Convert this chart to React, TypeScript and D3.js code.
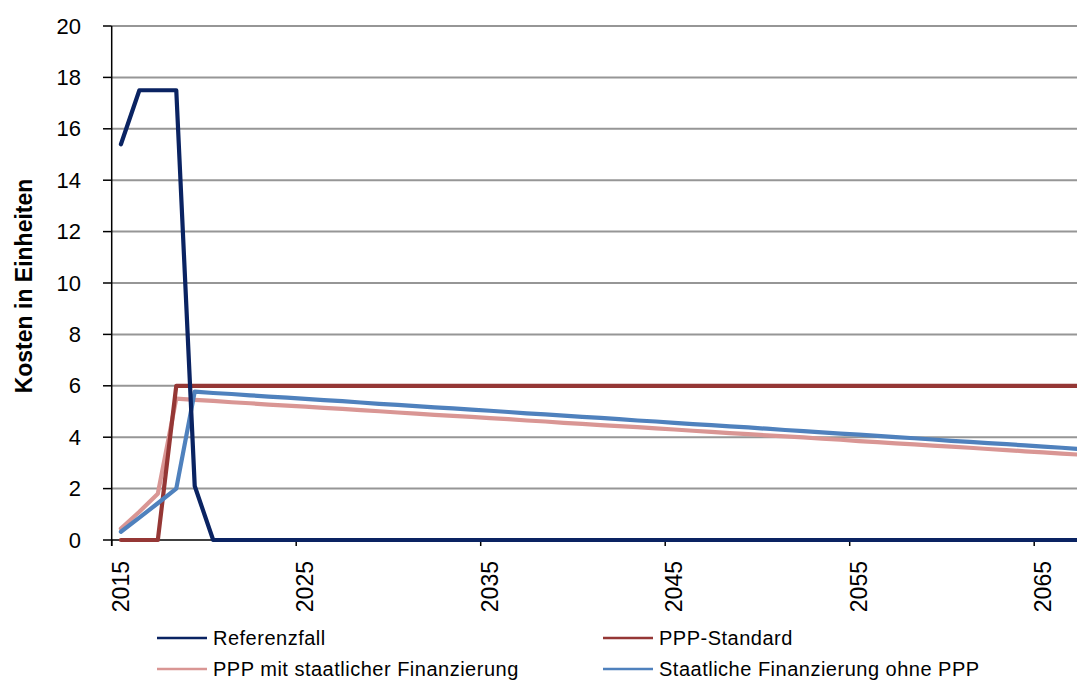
import React from "react";
import * as d3 from "d3";

const years: number[] = [
  2015, 2016, 2017, 2018, 2019, 2020, 2021, 2022, 2023, 2024,
  2025, 2026, 2027, 2028, 2029, 2030, 2031, 2032, 2033, 2034,
  2035, 2036, 2037, 2038, 2039, 2040, 2041, 2042, 2043, 2044,
  2045, 2046, 2047, 2048, 2049, 2050, 2051, 2052, 2053, 2054,
  2055, 2056, 2057, 2058, 2059, 2060, 2061, 2062, 2063, 2064,
  2065, 2066, 2067,
];

const referenzfall: number[] = [
  15.4, 17.5, 17.5, 17.5, 2.1, 0, 0, 0, 0, 0,
  0, 0, 0, 0, 0, 0, 0, 0, 0, 0,
  0, 0, 0, 0, 0, 0, 0, 0, 0, 0,
  0, 0, 0, 0, 0, 0, 0, 0, 0, 0,
  0, 0, 0, 0, 0, 0, 0, 0, 0, 0,
  0, 0, 0,
];

const pppStandard: number[] = [
  0, 0, 0, 6, 6, 6, 6, 6, 6, 6,
  6, 6, 6, 6, 6, 6, 6, 6, 6, 6,
  6, 6, 6, 6, 6, 6, 6, 6, 6, 6,
  6, 6, 6, 6, 6, 6, 6, 6, 6, 6,
  6, 6, 6, 6, 6, 6, 6, 6, 6, 6,
  6, 6, 6,
];

const pppMitStaatlicher: number[] = [
  0.45, 1.1, 1.8, 5.5, 5.45, 5.41, 5.36, 5.32, 5.27, 5.23,
  5.19, 5.14, 5.1, 5.05, 5.01, 4.96, 4.92, 4.87, 4.83, 4.79,
  4.74, 4.7, 4.65, 4.61, 4.56, 4.52, 4.47, 4.43, 4.39, 4.34,
  4.3, 4.25, 4.21, 4.16, 4.12, 4.07, 4.03, 3.99, 3.94, 3.9,
  3.85, 3.81, 3.76, 3.72, 3.67, 3.63, 3.59, 3.54, 3.5, 3.45,
  3.41, 3.36, 3.32,
];

const staatlicheOhnePPP: number[] = [
  0.32, 0.87, 1.43, 2.0, 5.77, 5.72, 5.68, 5.63, 5.58, 5.54,
  5.49, 5.44, 5.4, 5.35, 5.3, 5.26, 5.21, 5.16, 5.12, 5.07,
  5.03, 4.98, 4.93, 4.89, 4.84, 4.79, 4.75, 4.7, 4.65, 4.61,
  4.56, 4.51, 4.47, 4.42, 4.38, 4.33, 4.28, 4.24, 4.19, 4.14,
  4.1, 4.05, 4.0, 3.96, 3.91, 3.86, 3.82, 3.77, 3.73, 3.68,
  3.63, 3.59, 3.54,
];

const yTicks: number[] = [0, 2, 4, 6, 8, 10, 12, 14, 16, 18, 20];
const xTickLabels: number[] = [2015, 2025, 2035, 2045, 2055, 2065];

const seriesNames: string[] = [
  "Referenzfall",
  "PPP-Standard",
  "PPP mit staatlicher Finanzierung",
  "Staatliche Finanzierung ohne PPP",
];

const W = 1077;
const H = 682;
const FONT = "'Liberation Sans', Arial, sans-serif";

export default function App() {
  const left = 111.7;
  const step = 18.45;
  const x = d3
    .scaleLinear()
    .domain([0, years.length])
    .range([left, left + step * years.length]);
  const y = d3.scaleLinear().domain([0, 20]).range([540, 26]);

  const line = d3
    .line<number>()
    .x((_, i) => x(i + 0.5))
    .y((d) => y(d));

  const series = [
    { name: seriesNames[2], data: pppMitStaatlicher, color: "#D99694" },
    { name: seriesNames[1], data: pppStandard, color: "#953735" },
    { name: seriesNames[3], data: staatlicheOhnePPP, color: "#4F81BD" },
    { name: seriesNames[0], data: referenzfall, color: "#0A2362" },
  ];

  const legend = [
    { name: seriesNames[0], color: "#0A2362", lx: 157, ly: 638 },
    { name: seriesNames[1], color: "#953735", lx: 603, ly: 638 },
    { name: seriesNames[2], color: "#D99694", lx: 157, ly: 669 },
    { name: seriesNames[3], color: "#4F81BD", lx: 603, ly: 669 },
  ];

  return (
    <svg
      width={W}
      height={H}
      style={{ position: "absolute", left: 0, top: 0, background: "#fff" }}
      fontFamily={FONT}
    >
      <rect x={0} y={0} width={W} height={H} fill="#fff" />
      {yTicks
        .filter((t) => t > 0)
        .map((t) => (
          <line
            key={"g" + t}
            x1={left}
            x2={W}
            y1={y(t)}
            y2={y(t)}
            stroke="#969696"
            strokeWidth={2}
          />
        ))}
      <line x1={left} x2={left} y1={y(20)} y2={546} stroke="#000" strokeWidth={1.5} />
      {yTicks.map((t) => (
        <g key={"yt" + t}>
          <line x1={103} x2={left} y1={y(t)} y2={y(t)} stroke="#000" strokeWidth={1.5} />
          <text
            x={81}
            y={y(t)}
            textAnchor="end"
            dominantBaseline="central"
            fontSize={22}
            fill="#000"
          >
            {t}
          </text>
        </g>
      ))}
      <text
        transform={`translate(24,${y(10) + 3}) rotate(-90)`}
        textAnchor="middle"
        dominantBaseline="central"
        fontSize={23}
        fontWeight="bold"
        fill="#000"
      >
        Kosten in Einheiten
      </text>
      <line x1={left} x2={W} y1={540} y2={540} stroke="#000" strokeWidth={1.5} />
      {xTickLabels.map((yr) => {
        const i = years.indexOf(yr);
        return (
          <g key={"xt" + yr}>
            <line x1={x(i)} x2={x(i)} y1={540} y2={546} stroke="#000" strokeWidth={1.5} />
            <text
              transform={`translate(${x(i + 0.5)},561) rotate(-90)`}
              textAnchor="end"
              dominantBaseline="central"
              fontSize={23}
              fill="#000"
            >
              {yr}
            </text>
          </g>
        );
      })}
      {series.map((s) => (
        <path
          key={s.name}
          d={line(s.data) || ""}
          fill="none"
          stroke={s.color}
          strokeWidth={4.2}
          strokeLinejoin="round"
          strokeLinecap="round"
        />
      ))}
      {legend.map((l) => (
        <g key={"lg" + l.name}>
          <line
            x1={l.lx}
            x2={l.lx + 50}
            y1={l.ly}
            y2={l.ly}
            stroke={l.color}
            strokeWidth={2.5}
          />
          <text
            x={l.lx + 56}
            y={l.ly}
            dominantBaseline="central"
            fontSize={20}
            letterSpacing={0.5}
            fill="#000"
          >
            {l.name}
          </text>
        </g>
      ))}
    </svg>
  );
}
